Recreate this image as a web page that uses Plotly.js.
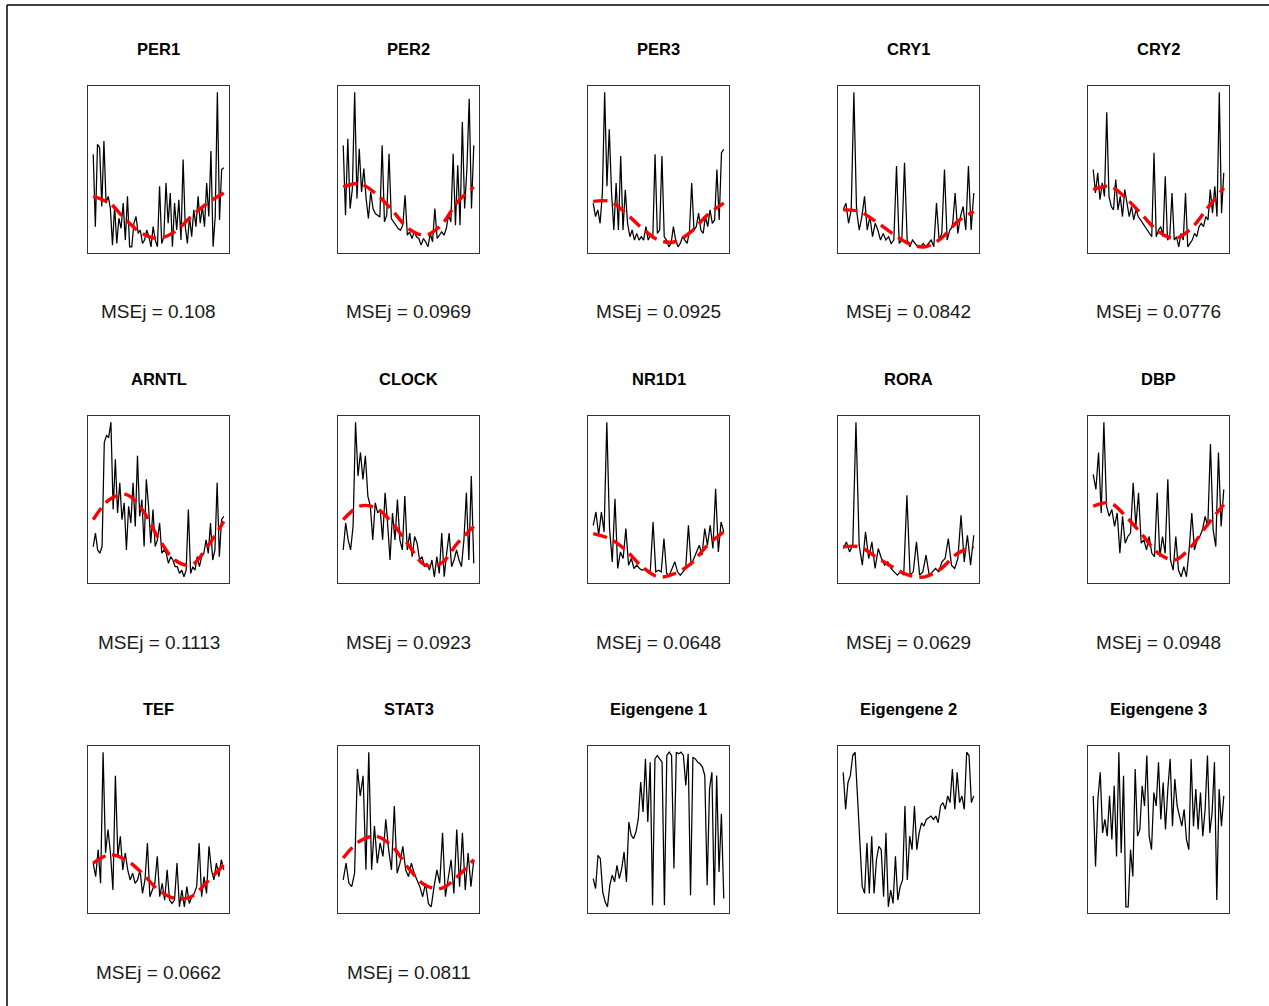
<!DOCTYPE html>
<html>
<head>
<meta charset="utf-8">
<script src="https://cdn.plot.ly/plotly-3.0.1.min.js"></script>
<style>
html,body{margin:0;padding:0;background:#fff;}
#chart{width:1269px;height:1006px;}
</style>
</head>
<body>
<div id="chart"></div>
<script>
// ---- Data ----
const geneNames = ["PER1","PER2","PER3","CRY1","CRY2","ARNTL","CLOCK","NR1D1","RORA","DBP","TEF","STAT3","Eigengene 1","Eigengene 2","Eigengene 3"];
const mseLabels = ["0.108","0.0969","0.0925","0.0842","0.0776","0.1113","0.0923","0.0648","0.0629","0.0948","0.0662","0.0811",null,null,null];

const PER1  = [60,17,66,64,29,68,31,35,28,6,29,7,22,16,31,9,35,5,5,19,23,13,15,7,9,15,11,5,17,9,5,41,7,11,43,19,37,5,31,15,33,9,57,17,7,23,11,27,17,35,19,29,17,43,23,62,5,23,97,21,51,52];
const PER2  = [65,23,69,27,39,97,33,63,37,51,33,21,37,27,24,23,22,65,19,23,60,21,19,17,15,14,17,35,11,13,9,13,10,9,5,9,7,4,12,7,27,9,11,13,11,15,23,19,60,17,53,17,79,27,51,93,27,65];
const PER3  = [31,23,27,19,37,97,41,75,37,15,43,15,59,15,39,19,11,15,9,13,9,11,9,17,9,12,10,60,13,15,59,11,9,5,7,17,9,5,7,11,9,7,14,43,15,17,25,15,13,23,17,27,19,21,51,21,61,63];
const CRY1  = [27,31,19,27,97,27,15,23,35,15,23,11,19,15,9,13,9,11,7,9,53,7,9,55,9,5,9,7,5,5,7,5,7,9,5,31,9,13,51,9,15,17,37,13,23,29,15,53,15,37];
const CRY2  = [51,37,49,33,43,35,85,35,29,27,45,27,35,23,39,31,23,29,21,27,23,21,19,17,15,13,11,61,11,15,17,11,47,9,11,37,9,11,5,13,9,37,5,7,9,13,11,17,19,17,23,21,39,25,41,23,97,25,49];
const ARNTL = [23,31,21,19,23,85,89,88,97,45,75,43,61,39,49,21,47,37,61,35,77,41,51,23,63,47,25,45,23,27,37,19,21,19,13,17,15,11,11,7,9,5,9,45,7,11,9,17,11,17,19,27,19,37,15,21,61,17,39,41];
const CLOCK = [21,37,27,21,35,97,65,79,63,77,53,47,27,49,43,45,27,55,37,15,43,27,51,27,21,53,21,31,17,29,25,15,17,11,13,9,15,5,17,7,31,5,19,31,11,15,21,15,11,27,55,15,65,13];
const NR1D1 = [35,43,29,43,31,97,33,13,51,9,19,15,33,11,15,9,11,9,8,9,7,8,37,7,8,7,27,6,5,9,13,7,5,7,9,35,11,15,19,23,17,33,23,35,21,57,19,37,31];
const RORA  = [21,25,19,23,97,23,11,31,15,25,9,21,15,11,13,9,7,5,7,5,53,5,7,25,5,7,17,5,7,9,7,13,15,27,11,9,15,41,13,29,11,29];
const DBP   = [66,57,79,43,97,47,41,45,35,43,19,41,25,29,31,61,35,55,25,27,21,29,19,17,55,17,29,19,63,15,9,29,9,5,11,5,21,43,21,27,29,33,41,35,84,33,23,79,35,57];
const TEF   = [31,23,39,19,97,37,51,37,15,83,35,47,27,37,27,21,25,19,21,27,13,21,43,11,15,19,35,11,19,9,27,9,7,9,31,5,15,5,17,7,11,13,17,43,11,23,13,41,27,21,31,23,33,27];
const STAT3 = [21,31,19,17,25,87,71,83,27,97,27,53,31,43,35,57,39,27,65,25,31,41,27,23,31,25,21,17,11,19,7,5,17,27,19,49,11,23,33,13,51,17,49,15,37,17,33];
const EIG1  = [21,15,35,33,13,7,4,17,23,19,29,21,27,37,19,55,47,45,49,57,79,61,93,55,91,5,93,95,93,91,5,95,97,95,27,97,96,97,95,77,96,11,94,93,91,90,88,83,17,75,85,5,83,25,60,9];
const EIG2  = [85,63,79,83,95,97,71,43,17,13,43,13,47,13,33,41,39,11,49,5,15,7,35,9,17,21,65,21,47,39,65,39,49,55,53,57,58,59,57,59,55,65,67,63,71,67,87,63,85,67,71,63,97,95,67,71];
const EIG3  = [71,29,69,85,49,57,47,71,45,77,35,97,37,83,5,5,39,23,87,47,51,77,65,95,47,39,73,65,91,57,79,51,75,93,53,81,65,59,53,63,45,39,93,53,75,51,73,47,63,95,49,61,91,9,75,53,71];

// fitted curves (values at evenly spaced points across each panel's time span)
const fitPER1  = [35,31,21,13,10,14,23,31,37];
const fitPER2  = [40,42,36,26,15,11,17,31,40];
const fitPER3  = [32,32,25,16,9,8,14,24,31];
const fitCRY1  = [27,26,20,13,7,5,10,20,26];
const fitCRY2  = [39,41,34,24,14,10,16,28,40];
const fitARNTL = [39,51,54,45,28,15,12,23,38];
const fitCLOCK = [39,47,46,37,24,12,13,25,35];
const fitNR1D1 = [30,27,20,10,4,6,12,23,31];
const fitRORA  = [22,22,16,10,5,4,9,18,22];
const fitDBP   = [47,49,41,30,19,15,23,36,48];
const fitTEF   = [31,36,33,25,15,10,11,20,30];
const fitSTAT3 = [34,44,47,41,28,18,16,23,33];

const series = [PER1,PER2,PER3,CRY1,CRY2,ARNTL,CLOCK,NR1D1,RORA,DBP,TEF,STAT3,EIG1,EIG2,EIG3];
const fits = [fitPER1,fitPER2,fitPER3,fitCRY1,fitCRY2,fitARNTL,fitCLOCK,fitNR1D1,fitRORA,fitDBP,fitTEF,fitSTAT3,null,null,null];

// ---- Layout geometry (pixels) ----
const W = 1269, H = 1006;
const colX = [88, 338, 588, 838, 1088];
const rowY = [86, 416, 746];
const boxW = 141, boxH = 167;
const titleDY = -37;   // title centre relative to box top
const mseDY = 59;      // MSE text centre relative to box bottom

const FONT = "Liberation Sans, Arial, sans-serif";
const traces = [];
const layout = {
  width: W, height: H,
  margin: {l:0, r:0, t:0, b:0},
  paper_bgcolor: "#ffffff",
  plot_bgcolor: "#ffffff",
  showlegend: false,
  annotations: [],
  shapes: [
    {type:"line", xref:"paper", yref:"paper", x0:7/W, x1:1.02, y0:1-5/H, y1:1-5/H, line:{color:"#000", width:1.5}},
    {type:"line", xref:"paper", yref:"paper", x0:7/W, x1:7/W, y0:1-5/H, y1:-0.02, line:{color:"#000", width:1.5}}
  ]
};

series.forEach((vals, i) => {
  const row = Math.floor(i/5), col = i % 5;
  const k = i === 0 ? "" : String(i+1);
  const n = vals.length;
  const xs = vals.map((_, j) => j + 1);
  traces.push({x: xs, y: vals, xaxis: "x"+k, yaxis: "y"+k, type: "scatter", mode: "lines",
               line: {color: "#000000", width: 1.25}, hoverinfo: "skip"});
  let all = vals.slice();
  const f = fits[i];
  if (f) {
    const m = f.length;
    const fx = f.map((_, j) => 1 + j*(n-1)/(m-1));
    traces.push({x: fx, y: f, xaxis: "x"+k, yaxis: "y"+k, type: "scatter", mode: "lines",
                 line: {color: "#ff0000", width: 3.4, dash: "14px,7px", shape: "spline", smoothing: 1},
                 hoverinfo: "skip"});
    all = all.concat(f);
  }
  const ymin = Math.min(...all), ymax = Math.max(...all);
  const yp = 0.04*(ymax-ymin), xp = 0.04*(n-1);
  const x0 = colX[col], y0 = rowY[row];
  const axCommon = {showgrid:false, zeroline:false, showticklabels:false, ticks:"",
                    showline:true, mirror:true, linecolor:"#333333", linewidth:1.3, fixedrange:true};
  layout["xaxis"+k] = Object.assign({}, axCommon, {domain:[x0/W, (x0+boxW)/W], range:[1-xp, n+xp], anchor:"y"+k});
  layout["yaxis"+k] = Object.assign({}, axCommon, {domain:[1-(y0+boxH)/H, 1-y0/H], range:[ymin-yp, ymax+yp], anchor:"x"+k});

  const cx = (x0 + boxW/2)/W;
  layout.annotations.push({xref:"paper", yref:"paper", x:cx, y:1-(y0+titleDY)/H,
    xanchor:"center", yanchor:"middle", showarrow:false,
    text:"<b>"+geneNames[i]+"</b>", font:{family:FONT, size:16.5, color:"#000"}});
  if (mseLabels[i] !== null) {
    layout.annotations.push({xref:"paper", yref:"paper", x:cx, y:1-(y0+boxH+mseDY)/H,
      xanchor:"center", yanchor:"middle", showarrow:false,
      text:"MSEj = "+mseLabels[i], font:{family:FONT, size:19, color:"#1a1a1a"}});
  }
});

Plotly.newPlot("chart", traces, layout, {staticPlot:true, displayModeBar:false});
</script>
</body>
</html>
